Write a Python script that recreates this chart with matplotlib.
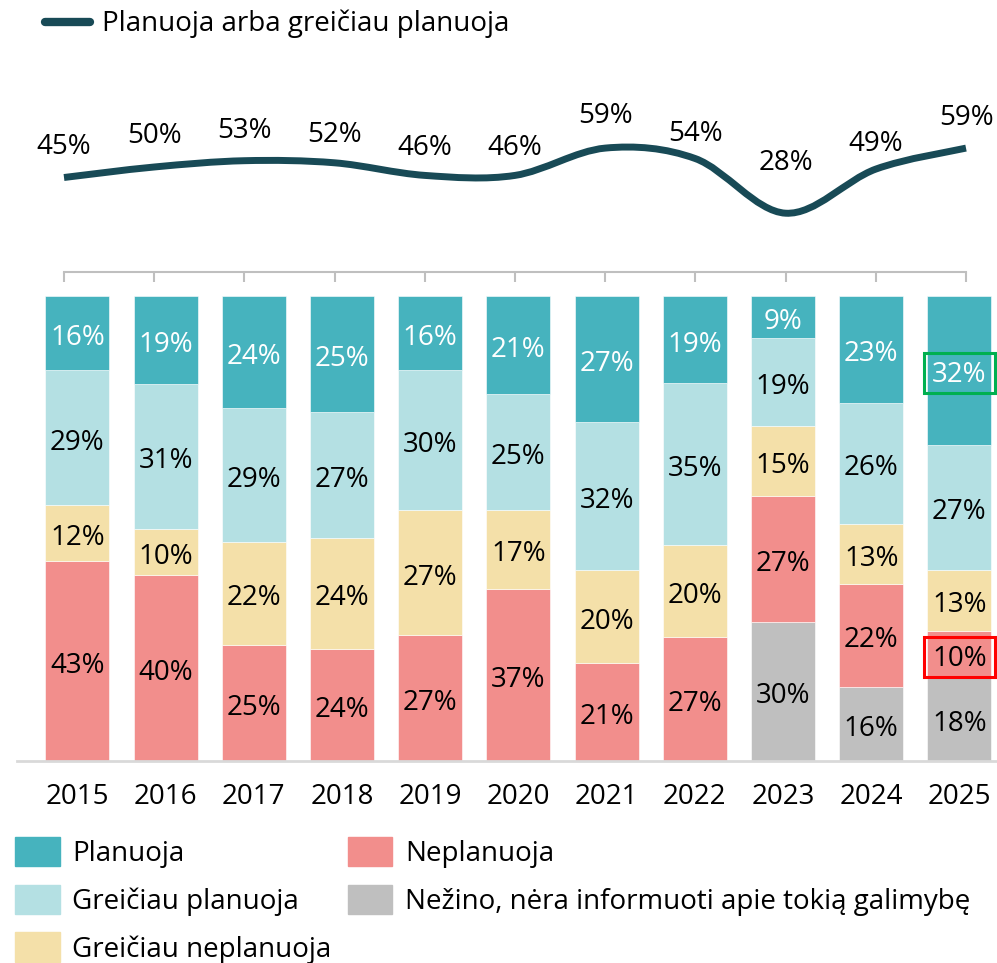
import numpy as np
import matplotlib
matplotlib.use('Agg')
from matplotlib import pyplot as plt
from matplotlib.path import Path
from matplotlib.patches import PathPatch, Patch, Rectangle
from matplotlib.lines import Line2D

plt.rcParams['font.family'] = ['Open Sans', 'DejaVu Sans']

# Data
years = ['2015', '2016', '2017', '2018', '2019', '2020', '2021', '2022', '2023', '2024', '2025']
plan_total = [45, 50, 53, 52, 46, 46, 59, 54, 28, 49, 59]  # planuoja arba greiciau planuoja

planuoja = [16, 19, 24, 25, 16, 21, 27, 19, 9, 23, 32]
greiciau_planuoja = [29, 31, 29, 27, 30, 25, 32, 35, 19, 26, 27]
greiciau_neplanuoja = [12, 10, 22, 24, 27, 17, 20, 20, 15, 13, 13]
neplanuoja = [43, 40, 25, 24, 27, 37, 21, 27, 27, 22, 10]
nezino = [0, 0, 0, 0, 0, 0, 0, 0, 30, 16, 18]

# label distance above the line (points), as placed in the original
line_label_offset = [22, 22, 21.5, 20, 20, 20, 23, 18, 36, 18, 21.5]

# bottom -> top order
series = [
    ('Nežino, nėra informuoti apie tokią galimybę', nezino, '#BFBFBF', 'black'),
    ('Neplanuoja', neplanuoja, '#F28E8C', 'black'),
    ('Greičiau neplanuoja', greiciau_neplanuoja, '#F4E0A9', 'black'),
    ('Greičiau planuoja', greiciau_planuoja, '#B4E0E3', 'black'),
    ('Planuoja', planuoja, '#46B3BE', 'white'),
]
# highlighted labels in 2025: series name -> box colour
highlights = {'Planuoja': '#00B050', 'Neplanuoja': '#FF0000'}

line_color = '#184A56'
fs = 20

fig = plt.figure(figsize=(9.97, 9.63), dpi=100)

# ---- smoothed line on top ----
ax_line = fig.add_axes([64 / 997, 1 - 272 / 963, 902 / 997, 210 / 963])
x = np.arange(len(years))
y = np.array(plan_total, dtype=float)
pts = np.column_stack([x, y])
ext = np.vstack([pts[0], pts, pts[-1]])
verts = [tuple(pts[0])]
codes = [Path.MOVETO]
for i in range(len(pts) - 1):
    p0, p1, p2, p3 = ext[i], ext[i + 1], ext[i + 2], ext[i + 3]
    c1 = p1 + (p2 - p0) / 6
    c2 = p2 - (p3 - p1) / 6
    verts += [tuple(c1), tuple(c2), tuple(p2)]
    codes += [Path.CURVE4] * 3
ax_line.add_patch(PathPatch(Path(verts, codes), fc='none', ec=line_color, lw=5,
                            capstyle='butt', clip_on=False))
for xi, v, off in zip(x, plan_total, line_label_offset):
    ax_line.annotate(f'{v}%', (xi, v), xytext=(0, off), textcoords='offset points',
                     ha='center', va='center', fontsize=fs)
ax_line.set_xlim(0, len(years) - 1)
ax_line.set_ylim(0, 100)
for s in ['top', 'left', 'right']:
    ax_line.spines[s].set_visible(False)
ax_line.spines['bottom'].set_color('#BFBFBF')
ax_line.spines['bottom'].set_linewidth(1.5)
ax_line.set_xticks(x)
ax_line.set_xticklabels([])
ax_line.tick_params(axis='x', direction='out', length=7, width=1.5, color='#BFBFBF')
ax_line.set_yticks([])
ax_line.patch.set_visible(False)

fig.legend(handles=[Line2D([], [], color=line_color, lw=6, solid_capstyle='round')],
           labels=['Planuoja arba greičiau planuoja'], loc='center left',
           bbox_to_anchor=(34 / 997, 1 - 24 / 963), frameon=False, fontsize=fs,
           handlelength=1.6, handletextpad=0.45, borderaxespad=0)

# ---- 100% stacked bars ----
ax = fig.add_axes([17 / 997, 1 - 761 / 963, 980 / 997, 465 / 963])
totals = np.sum([s[1] for s in series], axis=0)
bottom = np.zeros(len(years))
for name, vals, color, tcolor in series:
    h = np.array(vals) / totals * 100
    ax.bar(x, h, bottom=bottom, width=0.726, color=color, edgecolor='white', linewidth=0.4)
    for i, (v, hi, b) in enumerate(zip(vals, h, bottom)):
        if v == 0:
            continue
        yc = b + hi / 2
        ax.annotate(f'{v}%', (i, yc), xytext=(0, -3.5), textcoords='offset points',
                    ha='center', va='center', fontsize=fs, color=tcolor)
        if i == len(years) - 1 and name in highlights:
            ax.add_patch(Rectangle((i - 0.4, yc - 4.9), 0.8, 8.6, fc='none',
                                   ec=highlights[name], lw=2.2, zorder=5))
    bottom += h

ax.set_xlim(-0.685, 10.426)
ax.set_ylim(0, 100)
for s in ['top', 'left', 'right']:
    ax.spines[s].set_visible(False)
ax.spines['bottom'].set_color('#D9D9D9')
ax.spines['bottom'].set_linewidth(2)
ax.set_yticks([])
ax.set_xticks(x)
ax.set_xticklabels(years, fontsize=fs)
ax.tick_params(axis='x', length=0, pad=16)

legend_order = [4, 3, 2, 1, 0]
handles = [Patch(color=series[k][2]) for k in legend_order]
labels = [series[k][0] for k in legend_order]
fig.legend(handles, labels, ncol=2, loc='upper left', bbox_to_anchor=(4 / 997, 1 - 826 / 963),
           frameon=False, fontsize=fs, handlelength=1.6, handleheight=1.25,
           handletextpad=0.45, labelspacing=0.6, columnspacing=0.6, borderaxespad=0)

fig.savefig('out.png', dpi=100)
